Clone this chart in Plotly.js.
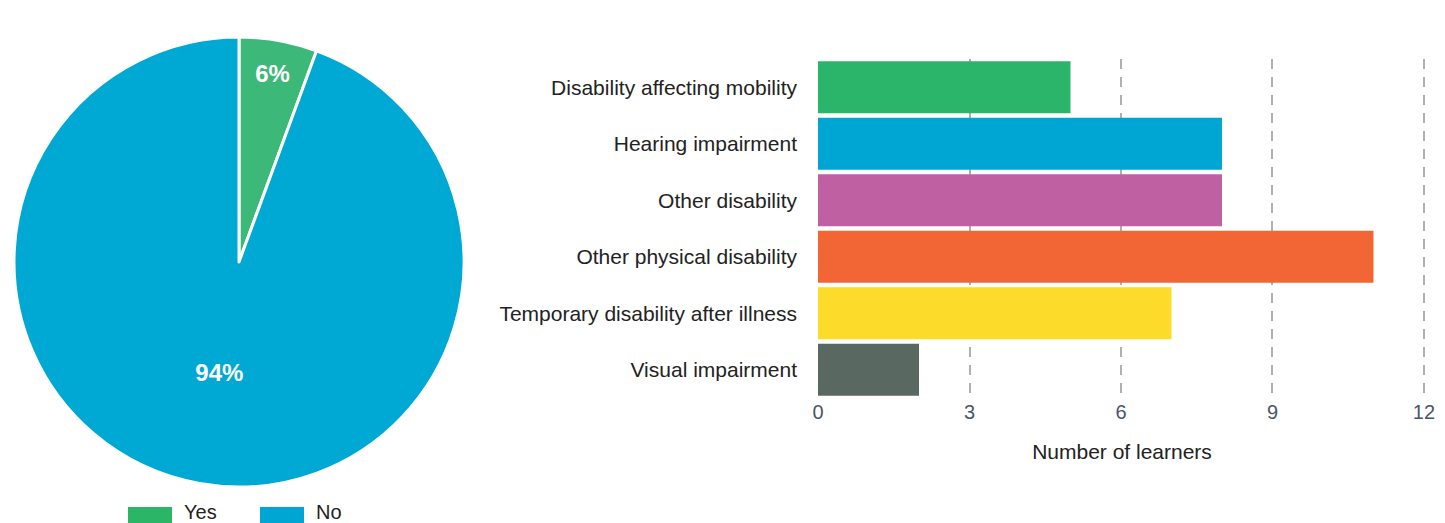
<!DOCTYPE html>
<html>
<head>
<meta charset="utf-8">
<script src="https://cdn.plot.ly/plotly-3.0.1.min.js"></script>
<style>html,body{margin:0;padding:0;background:#fff;}#chart{width:1445px;height:523px;}</style>
</head>
<body>
<div id="chart"></div>
<script>
// Pie data
const pieLabels = ['Yes', 'No'];
const pieValues = [5.6, 94.4];
const pieColors = ['#3cb878', '#00a8d4'];
const legendColors = ['#2ab567', '#00a6d3'];

// Bar data
const barCategories = ['Disability affecting mobility', 'Hearing impairment', 'Other disability',
  'Other physical disability', 'Temporary disability after illness', 'Visual impairment'];
const barValues = [5, 8, 8, 11, 7, 2];
const barColors = ['#2bb56a', '#00a6d3', '#bf60a2', '#f26534', '#fddb2a', '#596861'];
const xTickVals = [0, 3, 6, 9, 12];
const xTitle = 'Number of learners';

const W = 1445, H = 523;
const px = x => x / W;
const py = y => 1 - y / H;

const font = 'Arial, "Liberation Sans", Helvetica, sans-serif';

const traces = [
  {
    type: 'pie',
    labels: pieLabels,
    values: pieValues,
    sort: false,
    direction: 'clockwise',
    rotation: 0,
    marker: {colors: pieColors, line: {color: '#ffffff', width: 3}},
    textinfo: 'percent',
    texttemplate: '%{percent:.0%}',
    textposition: 'inside',
    insidetextorientation: 'horizontal',
    textfont: {color: '#ffffff', size: 24, family: font, weight: 'bold'},
    domain: {x: [px(14), px(464)], y: [py(487), py(37)]},
    showlegend: false,
    hoverinfo: 'label+percent'
  },
  {
    type: 'bar',
    orientation: 'h',
    y: barCategories,
    x: barValues,
    marker: {color: barColors},
    xaxis: 'x',
    yaxis: 'y',
    showlegend: false
  }
];

// Custom legend for the pie (large swatches), built from the pie arrays
const shapes = [];
const annotations = [];
const legendX = [128, 260];
pieLabels.forEach((lab, i) => {
  shapes.push({type: 'rect', xref: 'paper', yref: 'paper',
    x0: px(legendX[i]), x1: px(legendX[i] + 44), y0: py(526), y1: py(507),
    fillcolor: legendColors[i], line: {width: 0}});
  annotations.push({xref: 'paper', yref: 'paper', x: px(legendX[i] + 54), y: py(512),
    xanchor: 'left', yanchor: 'middle', text: lab, showarrow: false,
    font: {family: font, size: 20, color: '#222222'}});
});

const layout = {
  width: W, height: H,
  margin: {l: 0, r: 0, t: 0, b: 0},
  paper_bgcolor: '#ffffff',
  plot_bgcolor: '#ffffff',
  font: {family: font, color: '#222222'},
  bargap: 0.08,
  xaxis: {
    domain: [px(818), px(1426)],
    range: [0, 12.04],
    tickvals: xTickVals,
    showgrid: true,
    gridcolor: '#b0b0b0',
    gridwidth: 2,
    griddash: '10px,8px',
    zeroline: false,
    showline: false,
    ticks: '',
    tickfont: {size: 20, color: '#4a5668', family: font},
    title: {text: xTitle, font: {size: 21, color: '#222222', family: font}, standoff: 22},
    anchor: 'y',
    fixedrange: true
  },
  yaxis: {
    domain: [py(398), py(59)],
    autorange: 'reversed',
    type: 'category',
    showgrid: false,
    zeroline: false,
    showline: false,
    ticks: '',
    ticklabelstandoff: 20,
    tickfont: {size: 21, color: '#222222', family: font},
    anchor: 'x',
    fixedrange: true
  },
  shapes: shapes,
  annotations: annotations
};

Plotly.newPlot('chart', traces, layout, {displayModeBar: false, staticPlot: true});
</script>
</body>
</html>
